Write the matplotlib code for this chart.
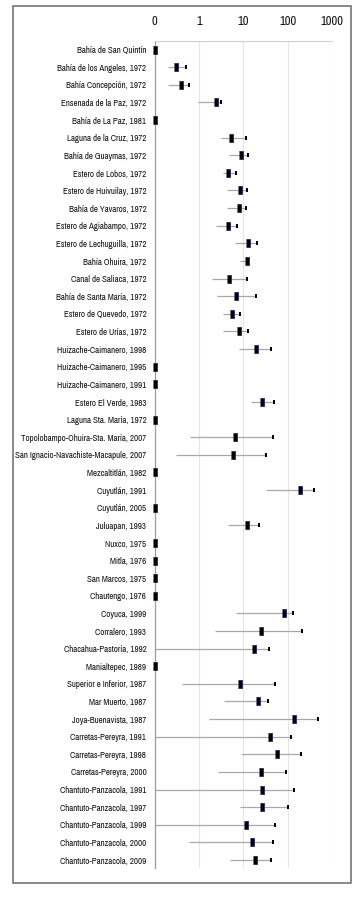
import numpy as np
import matplotlib
matplotlib.use("Agg")
import matplotlib.pyplot as plt
from matplotlib.patches import Rectangle

plt.rcParams['font.family'] = ['Archivo Narrow', 'Roboto Condensed', 'PT Sans Narrow',
                               'Liberation Sans', 'DejaVu Sans']

# sitios (de arriba hacia abajo)
sites = [
    "Bahía de San Quintín", "Bahía de los Angeles, 1972", "Bahía Concepción, 1972",
    "Ensenada de la Paz, 1972", "Bahía de La Paz, 1981", "Laguna de la Cruz, 1972",
    "Bahía de Guaymas, 1972", "Estero de Lobos, 1972", "Estero de Huivuilay, 1972",
    "Bahía de Yavaros, 1972", "Estero de Agiabampo, 1972", "Estero de Lechuguilla, 1972",
    "Bahía Ohuira, 1972", "Canal de Saliaca, 1972", "Bahía de Santa María, 1972",
    "Estero de Quevedo, 1972", "Estero de Urías, 1972", "Huizache-Caimanero, 1998",
    "Huizache-Caimanero, 1995", "Huizache-Caimanero, 1991", "Estero El Verde, 1983",
    "Laguna Sta. María, 1972", "Topolobampo-Ohuira-Sta. María, 2007",
    "San Ignacio-Navachiste-Macapule, 2007", "Mezcaltitlán, 1982", "Cuyutlán, 1991",
    "Cuyutlán, 2005", "Juluapan, 1993", "Nuxco, 1975", "Mitla, 1976", "San Marcos, 1975",
    "Chautengo, 1976", "Coyuca, 1999", "Corralero, 1993", "Chacahua-Pastoría, 1992",
    "Manialtepec, 1989", "Superior e Inferior, 1987", "Mar Muerto, 1987",
    "Joya-Buenavista, 1987", "Carretas-Pereyra, 1991", "Carretas-Pereyra, 1998",
    "Carretas-Pereyra, 2000", "Chantuto-Panzacola, 1991", "Chantuto-Panzacola, 1997",
    "Chantuto-Panzacola, 1999", "Chantuto-Panzacola, 2000", "Chantuto-Panzacola, 2009",
]

mean = [0, 0.30, 0.39, 2.4, 0, 5.2, 8.7, 4.4, 8.4, 7.8, 4.4, 12.5,
        11.9, 4.7, 6.9, 5.6, 7.8, 19.2, 0, 0, 27, 0, 6.4, 5.9, 0, 188,
        0, 11.9, 0, 0, 0, 0, 82, 24.5, 17.6, 0, 8.3, 21, 136, 40, 56,
        25, 26, 26, 11.4, 16, 18]
low = [np.nan, 0.20, 0.20, 0.93, np.nan, 3.1, 4.7, 3.4, 4.3, 4.3, 2.4, 6.6,
       8.4, 2.0, 2.6, 3.4, 3.4, 7.8, np.nan, np.nan, 15, np.nan, 0.63, 0.30, np.nan, 32,
       np.nan, 4.4, np.nan, np.nan, np.nan, np.nan, 6.7, 2.3, 0, np.nan, 0.41, 3.7, 1.7, 0, 8.7,
       2.7, 0, 8.3, 0, 0.6, 5.0]
high = [np.nan, 0.50, 0.60, 3.1, np.nan, 11.4, 12.9, 6.8, 11.9, 11.4, 7.3, 20,
        13, 11.9, 19, 8.3, 12.5, 41, np.nan, np.nan, 49, np.nan, 46, 32, np.nan, 395,
        np.nan, 23, np.nan, np.nan, np.nan, np.nan, 133, 206, 37, np.nan, 51, 36, 471, 118, 195,
        94, 138, 100, 53, 46, 42.5]

xticks = [0.1, 1, 10, 100, 1000]
xticklabels = ["0", "1", "10", "100", "1000"]

W, H = 354, 898
fig = plt.figure(figsize=(W / 100, H / 100), dpi=100)
ax = fig.add_axes([154.7 / W, 1 - 868 / H, (332 - 154.7) / W, (868 - 40.7) / H])

y = np.arange(len(sites))
floor = 0.1
m = np.maximum(np.array(mean, float), floor)
lo = np.maximum(np.array(low, float), floor)
hi = np.array(high, float)

ax.hlines(y, lo, hi, color='#a8a8a8', lw=0.9, zorder=2)
dot = [(-1, -1.6), (1, -1.6), (1, 1.6), (-1, 1.6)]
ax.plot(hi, y, ls='none', marker=dot, ms=2.3, color='black', mew=0, zorder=3)
box = [(-2, -3.5), (2, -3.5), (2, 3.5), (-2, 3.5)]
ax.plot(m, y, ls='none', marker=box, ms=5.1, mfc='black', mec='#1c2a78',
        mew=0.6, zorder=4, clip_on=False)

ax.set_xscale('log')
ax.set_xlim(0.1, 1000)
ax.set_ylim(len(sites) - 0.55, -0.5)
ax.set_xticks(xticks)
ax.set_xticklabels(xticklabels)
ax.minorticks_off()
ax.xaxis.tick_top()
ax.tick_params(axis='x', length=0, pad=10, labelsize=9, labelcolor='#111111')
ax.set_yticks(y)
ax.set_yticklabels(sites)
ax.tick_params(axis='y', length=0, pad=6, labelsize=6.4, labelcolor='#111111')

for v in xticks[1:]:
    ax.axvline(v, color='#e6e6e6', lw=0.8, zorder=0)
ax.spines['left'].set_color('#9a9a9a')
ax.spines['left'].set_linewidth(0.9)
ax.spines['top'].set_color('#d0d0d0')
ax.spines['top'].set_linewidth(0.8)
ax.spines['right'].set_visible(False)
ax.spines['bottom'].set_visible(False)

# marco exterior
fig.patches.append(Rectangle((13 / W, 1 - 883.3 / H), (350.7 - 13) / W, (883.3 - 6) / H,
                             transform=fig.transFigure, fill=False,
                             edgecolor='#6a6a6a', lw=1.1))

fig.savefig("out.png", dpi=100)
